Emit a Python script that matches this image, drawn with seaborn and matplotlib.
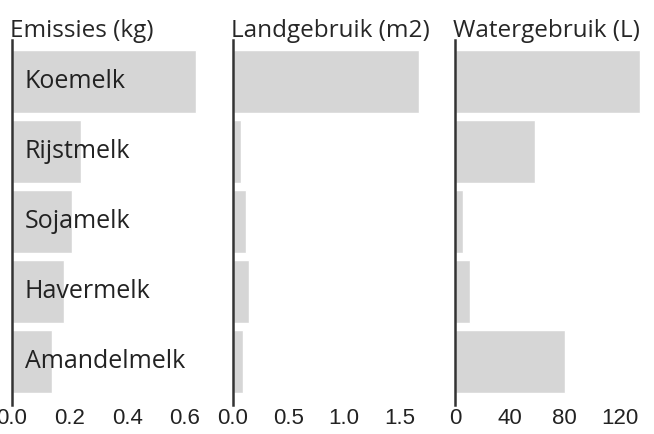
import pandas as pd
import seaborn as sns
import matplotlib.pyplot as plt

melk = ["Koemelk", "Rijstmelk", "Sojamelk", "Havermelk", "Amandelmelk"]
emissies = [0.64, 0.24, 0.21, 0.18, 0.14]
landgebruik = [1.67, 0.07, 0.12, 0.14, 0.09]
watergebruik = [135, 58, 6, 11, 80]

titels = ["Emissies (kg)", "Landgebruik (m2)", "Watergebruik (L)"]
ticks = [[0.0, 0.2, 0.4, 0.6], [0.0, 0.5, 1.0, 1.5], [0, 40, 80, 120]]
ticklabels = [["0.0", "0.2", "0.4", "0.6"], ["0.0", "0.5", "1.0", "1.5"], ["0", "40", "80", "120"]]
xmax = [0.73, 1.89, 153]

df = pd.DataFrame({"melk": melk, "Emissies (kg)": emissies,
                   "Landgebruik (m2)": landgebruik, "Watergebruik (L)": watergebruik})

sns.set_style("white")
plt.rcParams['font.family'] = ['Open Sans', 'DejaVu Sans']

W, H = 654, 434
fig = plt.figure(figsize=(W / 100, H / 100), dpi=100)
lefts = [12, 233, 455]
bottom = 1 - 405 / H
height = (405 - 40) / H

for i, col in enumerate(titels):
    ax = fig.add_axes([lefts[i] / W, bottom, 210 / W, height])
    sns.barplot(data=df, x=col, y="melk", orient="h", color="#d6d6d6",
                width=0.9, saturation=1, ax=ax)
    ax.set_xlim(0, xmax[i])
    ax.set_ylim(4.62, -0.59)
    ax.set_xticks(ticks[i])
    ax.set_xticklabels(ticklabels[i], fontsize=16, color="#222222",
                       family=['Liberation Sans', 'DejaVu Sans'])
    ax.tick_params(axis="x", length=0, pad=2)
    ax.set_yticks([])
    ax.set_xlabel("")
    ax.set_ylabel("")
    for s in ["top", "right", "bottom"]:
        ax.spines[s].set_visible(False)
    ax.spines["left"].set_color("#333333")
    ax.spines["left"].set_linewidth(1.8)
    ax.set_title(col, loc="left", fontsize=17.5, pad=2, x=-0.01)
    if i == 0:
        for j, m in enumerate(melk):
            ax.text(0.06, j, m, transform=ax.get_yaxis_transform(),
                    va="center", ha="left", fontsize=18, color="#222222")

fig.savefig("out.png", dpi=100)
